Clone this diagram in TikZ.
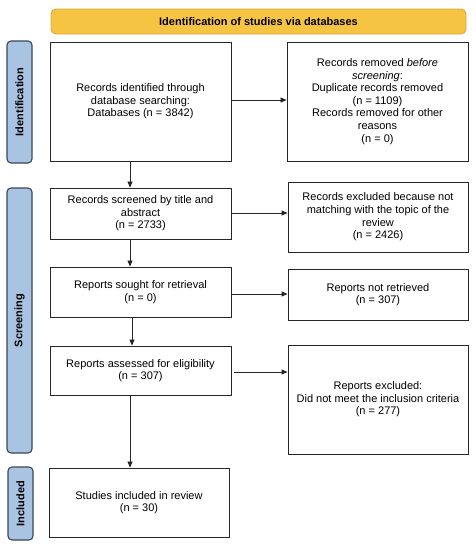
\documentclass[tikz,border=0pt]{standalone}
\usepackage{fontspec}
\setmainfont{Liberation Sans}
\usetikzlibrary{arrows.meta}
\definecolor{bannerfill}{HTML}{F6C443}
\definecolor{bannerdraw}{HTML}{DDA53A}
\definecolor{sidefill}{HTML}{A8C4E2}
\definecolor{sidedraw}{HTML}{3B4656}
\begin{document}
\begin{tikzpicture}[x=1pt,y=-1pt,
  box/.style={draw=black!85,line width=0.9pt,fill=white,align=center,inner sep=2pt,
    font=\fontsize{11}{12.6}\selectfont},
  side/.style={draw=sidedraw,fill=sidefill,line width=1.1pt,rounded corners=4pt},
  sidetext/.style={rotate=90,font=\fontsize{11}{13}\selectfont\bfseries},
  arr/.style={-{Triangle[length=6pt,width=5pt]},line width=0.8pt,draw=black!85}]
\useasboundingbox (0,0) rectangle (476,550);
% banner
\node[draw=bannerdraw,fill=bannerfill,line width=0.9pt,rounded corners=5pt,
  minimum width=415pt,minimum height=25pt,font=\fontsize{11}{13}\selectfont\bfseries]
  (banner) at (258.5,21.5) {Identification of studies via databases};
% side labels
\filldraw[side] (7,41) rectangle (32,163);
\node[sidetext] (lid) at (19.5,102) {Identification};
\filldraw[side] (7,188) rectangle (32,453);
\node[sidetext] (lsc) at (19.5,320.5) {Screening};
\filldraw[side] (8,467) rectangle (33,540);
\node[sidetext] (lin) at (20.5,503.5) {Included};
% left boxes
\node[box,minimum width=181pt,minimum height=119pt] (b1) at (140.5,101.5)
  {Records identified through\\database searching:\\Databases (n = 3842)};
\node[box,minimum width=181pt,minimum height=51pt] (b2) at (140.5,213.5)
  {Records screened by title and\\abstract\\(n = 2733)};
\node[box,minimum width=181pt,minimum height=50pt] (b3) at (140.5,292)
  {Reports sought for retrieval\\(n = 0)};
\node[box,minimum width=181pt,minimum height=49pt] (b4) at (140.5,370.5)
  {Reports assessed for eligibility\\(n = 307)};
\node[box,minimum width=180pt,minimum height=69pt] (b5) at (139,502.5)
  {Studies included in review\\(n = 30)};
% right boxes
\node[box,minimum width=181pt,minimum height=119pt] (r1) at (377.5,101.5)
  {Records removed \textit{before}\\\textit{screening}:\\Duplicate records removed\\(n = 1109)\\Records removed for other\\reasons\\(n = 0)};
\node[box,minimum width=180pt,minimum height=70pt] (r2) at (378,217)
  {Records excluded because not\\matching with the topic of the\\review\\(n = 2426)};
\node[box,minimum width=180pt,minimum height=51pt] (r3) at (378,294.5)
  {Reports not retrieved\\(n = 307)};
\node[box,minimum width=180pt,minimum height=109pt] (r4) at (378,399.5)
  {Reports excluded:\\Did not meet the inclusion criteria\\(n = 277)};
% arrows
\draw[arr] (b1.east |- 0,100) -- (r1.west |- 0,100);
\draw[arr] (b2.east |- 0,213) -- (r2.west |- 0,213);
\draw[arr] (b3.east |- 0,294) -- (r3.west |- 0,294);
\draw[arr] (234,372) -- (r4.west |- 0,372);
\draw[arr] (130,0 |- b1.south) -- (130,0 |- b2.north);
\draw[arr] (130,0 |- b2.south) -- (130,0 |- b3.north);
\draw[arr] (132,0 |- b3.south) -- (132,0 |- b4.north);
\draw[arr] (130,0 |- b4.south) -- (130,0 |- b5.north);
\end{tikzpicture}
\end{document}
